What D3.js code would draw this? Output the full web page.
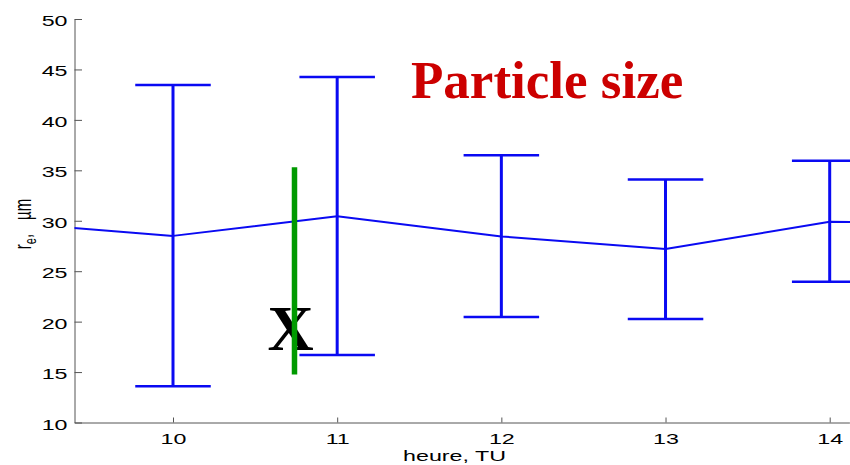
<!DOCTYPE html>
<html><head><meta charset="utf-8">
<script src="https://cdn.jsdelivr.net/npm/d3@7"></script>
<style>
  body { margin: 0; background: #fff; }
  svg { display: block; }
</style>
</head><body>
<svg id="chart" width="850" height="465"></svg>
<script>
// Mean effective radius per hour (UT); hours 9 and 15 extend the trace past the axis limits
const lineHours = [9, 10, 11, 12, 13, 14, 15];
const meanRadius = [29.8, 28.5, 30.45, 28.45, 27.2, 29.9, 29.8];
// Spread of the radius at each hourly point
const barHours = [10, 11, 12, 13, 14];
const barLow = [13.6, 16.7, 20.45, 20.25, 23.95];
const barHigh = [43.45, 44.25, 36.5, 34.1, 35.95];
const xTicks = [10, 11, 12, 13, 14];
const yTicks = [10, 15, 20, 25, 30, 35, 40, 45, 50];
// Marked instant and its vertical extent
const markerHour = 10.74;
const markerRange = [14.75, 35.3];

const svg = d3.select("#chart");
const stretch = 1.55;   // axis text is drawn wide
const blue = "#0a0af2";
const axisFont = "'Liberation Sans', Arial, sans-serif";

const x = d3.scaleLinear().domain([9.4, 14.12]).range([74.5, 849.4]);
const y = d3.scaleLinear().domain([10, 50]).range([422.5, 19]);

svg.append("defs").append("clipPath").attr("id", "plotClip")
  .append("rect")
  .attr("x", x.range()[0]).attr("y", 0)
  .attr("width", x.range()[1] - x.range()[0] + 2).attr("height", y.range()[0]);

// Axes
const fmt = d3.format("d");
const xAxis = svg.append("g")
  .attr("transform", `translate(0,${y.range()[0]})`)
  .call(d3.axisBottom(x).tickValues(xTicks).tickFormat(fmt).tickSize(-5).tickSizeOuter(0));
const yAxis = svg.append("g")
  .attr("transform", `translate(${x.range()[0]},0)`)
  .call(d3.axisLeft(y).tickValues(yTicks).tickFormat(fmt).tickSize(-7.5).tickSizeOuter(0));

[xAxis, yAxis].forEach(g => {
  g.select(".domain").attr("stroke", "#555").attr("stroke-width", 1);
  g.selectAll(".tick line").attr("stroke", "#555").attr("stroke-width", 1);
  g.selectAll(".tick text")
    .attr("fill", "#000")
    .style("font-family", axisFont)
    .style("font-size", "15px");
});
xAxis.selectAll(".tick text")
  .attr("y", null).attr("dy", null)
  .attr("text-anchor", "middle")
  .attr("transform", `translate(0,21) scale(${stretch},1)`);
yAxis.selectAll(".tick text")
  .attr("x", null).attr("dy", null)
  .attr("text-anchor", "end")
  .attr("transform", `translate(-7,6.5) scale(${stretch},1)`);

// Axis titles
svg.append("text")
  .attr("transform", `translate(454.5,460.5) scale(${stretch},1)`)
  .attr("text-anchor", "middle")
  .attr("fill", "#000")
  .style("font-family", axisFont)
  .style("font-size", "15px")
  .text("heure, TU");

const yLabel = svg.append("text")
  .attr("transform", `translate(31,224) scale(${stretch},1) rotate(-90)`)
  .attr("text-anchor", "middle")
  .attr("fill", "#000")
  .style("font-family", axisFont)
  .style("font-size", "15px");
yLabel.append("tspan").text("r");
yLabel.append("tspan").attr("dy", 3).style("font-size", "11px").text("e");
yLabel.append("tspan").attr("dy", -3).text(",");
yLabel.append("tspan").attr("dx", 14).text("µm");

// Data layer
const plot = svg.append("g").attr("clip-path", "url(#plotClip)");

const line = d3.line().x((d, i) => x(lineHours[i])).y(d => y(d));
plot.append("path")
  .datum(meanRadius)
  .attr("d", line)
  .attr("fill", "none")
  .attr("stroke", blue)
  .attr("stroke-width", 2)
  .attr("stroke-linejoin", "round");

const capHalf = 0.23;
const bars = plot.selectAll(".errbar")
  .data(barHours.map((h, i) => ({ h, lo: barLow[i], hi: barHigh[i] })))
  .join("g").attr("class", "errbar");
bars.append("line")
  .attr("x1", d => x(d.h)).attr("x2", d => x(d.h))
  .attr("y1", d => y(d.lo)).attr("y2", d => y(d.hi))
  .attr("stroke", blue).attr("stroke-width", 3);
bars.append("line")
  .attr("x1", d => x(d.h - capHalf)).attr("x2", d => x(d.h + capHalf))
  .attr("y1", d => y(d.hi)).attr("y2", d => y(d.hi))
  .attr("stroke", blue).attr("stroke-width", 2.5);
bars.append("line")
  .attr("x1", d => x(d.h - capHalf)).attr("x2", d => x(d.h + capHalf))
  .attr("y1", d => y(d.lo)).attr("y2", d => y(d.lo))
  .attr("stroke", blue).attr("stroke-width", 2.5);

// Annotations
svg.append("text")
  .attr("x", 290.5).attr("y", 350)
  .attr("text-anchor", "middle")
  .attr("fill", "#000")
  .style("font-family", "'Liberation Serif', 'Times New Roman', serif")
  .style("font-weight", "bold")
  .style("font-size", "64px")
  .text("X");

svg.append("line")
  .attr("x1", x(markerHour)).attr("x2", x(markerHour))
  .attr("y1", y(markerRange[0])).attr("y2", y(markerRange[1]))
  .attr("stroke", "#009a00").attr("stroke-width", 5.5);

svg.append("text")
  .attr("x", 411).attr("y", 98)
  .attr("fill", "#cc0000")
  .style("font-family", "'Liberation Serif', 'Times New Roman', serif")
  .style("font-weight", "bold")
  .style("font-size", "53px")
  .text("Particle size");
</script>
</body></html>
